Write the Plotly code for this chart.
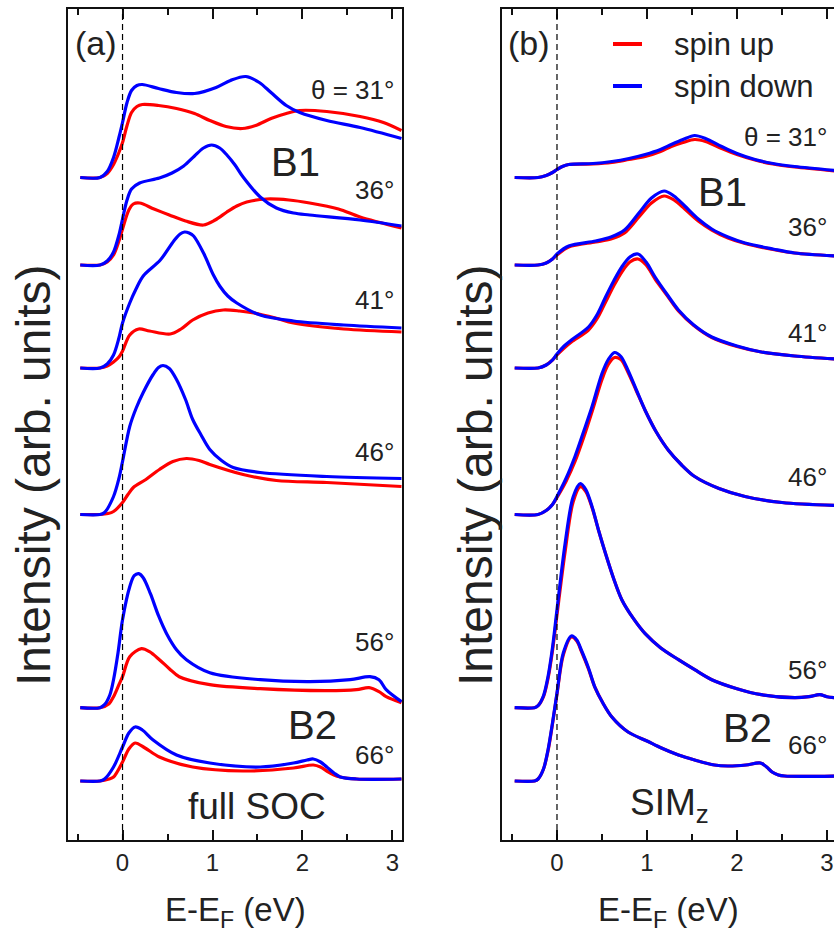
import plotly.graph_objects as go

# ---------------- figure geometry (pixels) ----------------
W, H = 834, 936
PLOT_TOP, PLOT_BOT = 9, 840
A_LEFT, A_RIGHT = 68, 402
B_LEFT, B_RIGHT = 502, 834
XRANGE_A = [-0.606, 3.106]
XRANGE_B = [-0.611, 3.078]
YRANGE = [0, 83.1]

RED = "#ff0000"
BLUE = "#0000ff"
TXT = "#222222"
FONT = "Liberation Sans, Arial, sans-serif"

# ---------------- vertical offsets of the spectra ----------------
angles = ["31", "36", "41", "46", "56", "66"]
offsets = [66.25, 57.5, 47.2, 32.55, 13.23, 5.9]

# ---------------- panel (a): full SOC ----------------
a31_up_E = [-0.47, -0.25, -0.17, -0.10, -0.04, 0.0, 0.05, 0.10, 0.16, 0.22, 0.40, 0.60, 0.80, 0.97, 1.15, 1.33, 1.48, 1.65, 1.82, 1.97, 2.27, 2.64, 2.90, 3.10]
a31_up_I = [0, 0, 0.4, 1.3, 2.5, 3.5, 5.2, 6.5, 7.1, 7.3, 7.2, 6.9, 6.4, 5.7, 5.1, 4.9, 5.2, 5.9, 6.4, 6.7, 6.6, 6.1, 5.5, 4.7]
a31_dn_E = [-0.47, -0.25, -0.17, -0.10, -0.04, 0.0, 0.05, 0.10, 0.16, 0.22, 0.40, 0.60, 0.80, 1.04, 1.20, 1.37, 1.52, 1.65, 1.82, 1.97, 2.27, 2.64, 3.10]
a31_dn_I = [0, 0, 0.6, 2.0, 4.0, 5.5, 7.5, 8.7, 9.2, 9.3, 8.9, 8.5, 8.4, 9.0, 9.7, 10.1, 9.5, 8.5, 7.2, 6.5, 5.7, 5.0, 3.9]

a36_up_E = [-0.47, -0.25, -0.17, -0.10, -0.04, 0.0, 0.07, 0.12, 0.19, 0.35, 0.52, 0.70, 0.90, 1.03, 1.16, 1.27, 1.38, 1.60, 1.85, 2.08, 2.40, 2.64, 3.10]
a36_up_I = [0, 0, 0.3, 1.0, 2.4, 3.6, 5.5, 6.1, 6.2, 5.6, 5.0, 4.4, 4.0, 4.5, 5.3, 5.9, 6.3, 6.6, 6.5, 6.2, 5.6, 4.8, 3.7]
a36_dn_E = [-0.47, -0.25, -0.17, -0.10, -0.04, 0.0, 0.05, 0.10, 0.19, 0.41, 0.55, 0.68, 0.80, 0.90, 0.99, 1.08, 1.16, 1.25, 1.34, 1.53, 1.71, 1.90, 2.08, 2.64, 3.10]
a36_dn_I = [0, 0, 0.4, 1.3, 3.0, 4.6, 6.5, 7.6, 8.2, 8.7, 9.2, 9.9, 10.9, 11.7, 12.0, 11.7, 11.0, 10.0, 8.8, 6.8, 5.7, 5.2, 5.0, 4.5, 3.9]

a41_up_E = [-0.47, -0.25, -0.17, -0.10, -0.04, 0.0, 0.08, 0.18, 0.30, 0.53, 0.65, 0.78, 0.95, 1.12, 1.30, 1.46, 1.70, 1.90, 2.46, 3.10]
a41_up_I = [0, 0, 0.2, 0.6, 1.1, 1.7, 3.3, 3.9, 3.7, 3.4, 3.9, 4.8, 5.5, 5.8, 5.7, 5.5, 5.0, 4.5, 3.9, 3.6]
a41_dn_E = [-0.47, -0.25, -0.17, -0.10, -0.04, 0.0, 0.08, 0.15, 0.23, 0.42, 0.57, 0.64, 0.69, 0.74, 0.79, 0.90, 1.01, 1.08, 1.17, 1.27, 1.53, 1.90, 2.46, 3.10]
a41_dn_I = [0, 0, 0.4, 1.3, 3.0, 4.5, 6.5, 7.9, 9.2, 10.8, 12.7, 13.4, 13.6, 13.5, 13.2, 11.5, 9.3, 8.2, 7.2, 6.5, 5.3, 4.7, 4.3, 4.0]

a46_up_E = [-0.47, -0.25, -0.16, -0.10, 0.0, 0.06, 0.12, 0.26, 0.41, 0.56, 0.71, 0.85, 0.97, 1.34, 1.71, 2.27, 3.10]
a46_up_I = [0, 0, 0.1, 0.3, 1.2, 2.0, 2.7, 3.5, 4.5, 5.3, 5.6, 5.4, 5.0, 4.0, 3.4, 3.2, 2.8]
a46_dn_E = [-0.47, -0.25, -0.20, -0.10, -0.04, 0.0, 0.08, 0.15, 0.23, 0.34, 0.40, 0.45, 0.52, 0.60, 0.70, 0.78, 0.87, 0.97, 1.10, 1.23, 1.53, 2.27, 3.10]
a46_dn_I = [0, 0, 0.2, 1.8, 3.6, 5.3, 8.8, 10.6, 12.2, 14.0, 14.7, 14.9, 14.6, 13.5, 11.5, 9.5, 8.0, 6.5, 5.4, 4.7, 4.2, 3.8, 3.6]

a56_up_E = [-0.47, -0.25, -0.15, -0.10, -0.04, 0.0, 0.08, 0.21, 0.30, 0.41, 0.52, 0.63, 0.97, 1.53, 2.27, 2.60, 2.74, 2.85, 2.93, 3.10]
a56_up_I = [0, 0, 0.4, 1.1, 2.3, 3.1, 5.1, 5.9, 5.6, 4.8, 3.9, 3.1, 2.3, 1.9, 1.7, 1.8, 2.0, 1.6, 1.1, 0.5]
a56_dn_E = [-0.47, -0.25, -0.20, -0.14, -0.10, -0.05, 0.0, 0.08, 0.13, 0.18, 0.23, 0.31, 0.40, 0.49, 0.60, 0.71, 0.97, 1.53, 2.08, 2.53, 2.75, 2.85, 2.93, 3.10]
a56_dn_I = [0, 0, 0.3, 1.3, 2.8, 5.5, 8.8, 12.1, 13.2, 13.4, 13.0, 11.4, 9.2, 7.4, 5.8, 4.8, 3.5, 2.8, 2.6, 2.8, 3.1, 2.8, 1.8, 0.6]

a66_up_E = [-0.47, -0.25, -0.15, -0.10, 0.0, 0.07, 0.14, 0.25, 0.41, 0.78, 1.34, 1.90, 2.12, 2.20, 2.27, 2.35, 2.42, 2.60, 3.10]
a66_up_I = [0, 0, 0.2, 0.4, 1.9, 3.2, 3.8, 3.3, 2.4, 1.4, 1.0, 1.3, 1.6, 1.4, 1.0, 0.6, 0.4, 0.2, 0.2]
a66_dn_E = [-0.47, -0.25, -0.20, -0.10, 0.0, 0.07, 0.14, 0.22, 0.34, 0.60, 0.97, 1.53, 1.90, 2.05, 2.12, 2.20, 2.27, 2.35, 2.42, 2.60, 3.10]
a66_dn_I = [0, 0, 0.2, 1.4, 3.4, 4.8, 5.4, 5.1, 4.1, 2.6, 1.8, 1.4, 1.8, 2.1, 2.2, 1.9, 1.4, 0.8, 0.4, 0.2, 0.2]

# ---------------- panel (b): SIM_z ----------------
b31_up_E = [-0.47, -0.21, -0.12, -0.05, 0.0, 0.06, 0.13, 0.40, 0.61, 0.80, 0.98, 1.15, 1.27, 1.40, 1.53, 1.65, 1.83, 2.00, 2.20, 2.40, 2.64, 3.10]
b31_up_I = [0, 0, 0.2, 0.5, 0.8, 1.1, 1.3, 1.35, 1.5, 1.8, 2.1, 2.6, 3.1, 3.5, 3.8, 3.6, 2.9, 2.3, 1.75, 1.35, 1.05, 0.65]
b31_dn_E = [-0.47, -0.21, -0.12, -0.05, 0.0, 0.06, 0.13, 0.40, 0.61, 0.80, 0.98, 1.15, 1.27, 1.40, 1.53, 1.65, 1.83, 2.00, 2.20, 2.40, 2.64, 3.10]
b31_dn_I = [0, 0, 0.2, 0.5, 0.8, 1.1, 1.3, 1.4, 1.6, 1.9, 2.3, 2.8, 3.3, 3.8, 4.2, 3.9, 3.1, 2.4, 1.8, 1.4, 1.1, 0.7]

b36_up_E = [-0.47, -0.21, -0.12, -0.05, 0.0, 0.13, 0.43, 0.60, 0.75, 0.91, 1.05, 1.19, 1.30, 1.42, 1.57, 1.72, 1.90, 2.09, 2.40, 2.64, 3.10]
b36_up_I = [0, 0, 0.2, 0.6, 1.0, 1.8, 2.3, 2.6, 3.2, 4.8, 6.2, 6.9, 6.5, 5.6, 4.4, 3.5, 2.7, 2.15, 1.55, 1.2, 0.9]
b36_dn_E = [-0.47, -0.21, -0.12, -0.05, 0.0, 0.13, 0.43, 0.60, 0.75, 0.91, 1.05, 1.19, 1.30, 1.42, 1.57, 1.72, 1.90, 2.09, 2.40, 2.64, 3.10]
b36_dn_I = [0, 0, 0.2, 0.6, 1.1, 1.9, 2.4, 2.8, 3.5, 5.2, 6.7, 7.4, 6.9, 5.9, 4.6, 3.6, 2.8, 2.2, 1.6, 1.2, 0.9]

b41_up_E = [-0.47, -0.21, -0.12, -0.05, 0.0, 0.08, 0.16, 0.35, 0.45, 0.54, 0.63, 0.72, 0.81, 0.90, 0.99, 1.09, 1.22, 1.35, 1.52, 1.72, 2.00, 2.27, 2.64, 3.10]
b41_up_I = [0, 0, 0.3, 0.8, 1.3, 2.0, 2.6, 3.8, 5.0, 6.6, 8.2, 9.6, 10.6, 10.9, 10.3, 8.9, 7.3, 5.7, 4.25, 3.05, 2.15, 1.6, 1.2, 0.9]
b41_dn_E = [-0.47, -0.21, -0.12, -0.05, 0.0, 0.08, 0.16, 0.35, 0.45, 0.54, 0.63, 0.72, 0.81, 0.90, 0.99, 1.09, 1.22, 1.35, 1.52, 1.72, 2.00, 2.27, 2.64, 3.10]
b41_dn_I = [0, 0, 0.3, 0.8, 1.4, 2.2, 2.8, 4.1, 5.4, 7.1, 8.7, 10.1, 11.1, 11.4, 10.6, 9.1, 7.4, 5.8, 4.3, 3.1, 2.2, 1.6, 1.2, 0.9]

b46_up_E = [-0.47, -0.21, -0.12, -0.05, 0.0, 0.10, 0.20, 0.30, 0.39, 0.50, 0.57, 0.64, 0.71, 0.79, 0.88, 0.98, 1.10, 1.24, 1.38, 1.53, 1.80, 2.09, 2.50, 3.10]
b46_up_I = [0, 0, 0.4, 1.0, 1.7, 3.3, 5.3, 7.8, 10.3, 13.5, 15.0, 15.7, 15.5, 14.2, 12.4, 10.4, 8.3, 6.4, 5.0, 3.8, 2.6, 1.8, 1.2, 0.9]
b46_dn_E = [-0.47, -0.21, -0.12, -0.05, 0.0, 0.10, 0.20, 0.30, 0.39, 0.50, 0.57, 0.64, 0.71, 0.79, 0.88, 0.98, 1.10, 1.24, 1.38, 1.53, 1.80, 2.09, 2.50, 3.10]
b46_dn_I = [0, 0, 0.4, 1.0, 1.8, 3.6, 5.8, 8.4, 10.8, 14.1, 15.5, 16.2, 15.8, 14.4, 12.5, 10.4, 8.3, 6.4, 5.0, 3.8, 2.6, 1.8, 1.2, 0.9]

b56_up_E = [-0.47, -0.25, -0.21, -0.15, -0.10, -0.05, 0.0, 0.09, 0.18, 0.26, 0.32, 0.39, 0.46, 0.54, 0.63, 0.72, 0.85, 0.98, 1.15, 1.35, 1.53, 1.72, 2.00, 2.27, 2.64, 2.80, 2.92, 3.00, 3.10]
b56_up_I = [0, 0, 0.2, 1.1, 2.9, 5.7, 9.3, 15.6, 20.6, 22.1, 21.6, 20.0, 17.8, 15.4, 12.9, 10.8, 8.9, 7.4, 6.0, 4.8, 3.8, 2.8, 1.9, 1.3, 1.0, 1.1, 1.3, 1.1, 1.0]
b56_dn_E = [-0.47, -0.25, -0.21, -0.15, -0.10, -0.05, 0.0, 0.09, 0.18, 0.26, 0.32, 0.39, 0.46, 0.54, 0.63, 0.72, 0.85, 0.98, 1.15, 1.35, 1.53, 1.72, 2.00, 2.27, 2.64, 2.80, 2.92, 3.00, 3.10]
b56_dn_I = [0, 0, 0.2, 1.2, 3.1, 6.0, 9.8, 16.4, 21.1, 22.4, 21.8, 20.1, 17.8, 15.4, 12.9, 10.8, 8.9, 7.4, 6.0, 4.8, 3.8, 2.8, 1.9, 1.3, 1.0, 1.1, 1.3, 1.1, 1.0]

b66_up_E = [-0.47, -0.25, -0.21, -0.15, -0.10, -0.05, 0.0, 0.07, 0.16, 0.22, 0.27, 0.35, 0.42, 0.51, 0.61, 0.79, 1.00, 1.16, 1.35, 1.53, 1.75, 1.90, 2.10, 2.26, 2.33, 2.39, 2.46, 2.53, 3.10]
b66_up_I = [0, 0, 0.2, 1.2, 3.0, 5.7, 8.7, 12.6, 14.4, 14.0, 13.0, 11.2, 9.4, 7.8, 6.4, 4.9, 4.0, 3.3, 2.6, 2.1, 1.6, 1.5, 1.6, 1.8, 1.4, 0.9, 0.6, 0.5, 0.5]
b66_dn_E = [-0.47, -0.25, -0.21, -0.15, -0.10, -0.05, 0.0, 0.07, 0.16, 0.22, 0.27, 0.35, 0.42, 0.51, 0.61, 0.79, 1.00, 1.16, 1.35, 1.53, 1.75, 1.90, 2.10, 2.26, 2.33, 2.39, 2.46, 2.53, 3.10]
b66_dn_I = [0, 0, 0.2, 1.2, 3.1, 5.8, 8.8, 12.8, 14.5, 14.1, 13.1, 11.3, 9.4, 7.8, 6.4, 4.9, 4.0, 3.3, 2.6, 2.1, 1.6, 1.5, 1.6, 1.8, 1.4, 0.9, 0.6, 0.5, 0.5]

panel_a = [
    (a31_up_E, a31_up_I, a31_dn_E, a31_dn_I),
    (a36_up_E, a36_up_I, a36_dn_E, a36_dn_I),
    (a41_up_E, a41_up_I, a41_dn_E, a41_dn_I),
    (a46_up_E, a46_up_I, a46_dn_E, a46_dn_I),
    (a56_up_E, a56_up_I, a56_dn_E, a56_dn_I),
    (a66_up_E, a66_up_I, a66_dn_E, a66_dn_I),
]
panel_b = [
    (b31_up_E, b31_up_I, b31_dn_E, b31_dn_I),
    (b36_up_E, b36_up_I, b36_dn_E, b36_dn_I),
    (b41_up_E, b41_up_I, b41_dn_E, b41_dn_I),
    (b46_up_E, b46_up_I, b46_dn_E, b46_dn_I),
    (b56_up_E, b56_up_I, b56_dn_E, b56_dn_I),
    (b66_up_E, b66_up_I, b66_dn_E, b66_dn_I),
]


def px(x):
    return x / W


def py(y):
    return 1 - y / H


fig = go.Figure()

for axes, curves in (("a", panel_a), ("b", panel_b)):
    xa, ya = ("x", "y") if axes == "a" else ("x2", "y2")
    for ang, off, (eu, iu, ed, idn) in zip(angles, offsets, curves):
        fig.add_trace(go.Scatter(
            x=eu, y=[off + v for v in iu], xaxis=xa, yaxis=ya,
            mode="lines", line=dict(color=RED, width=3.2, shape="spline", smoothing=0.9),
            name="spin up", showlegend=False, hoverinfo="skip"))
        fig.add_trace(go.Scatter(
            x=ed, y=[off + v for v in idn], xaxis=xa, yaxis=ya,
            mode="lines", line=dict(color=BLUE, width=3.2, shape="spline", smoothing=0.9),
            name="spin down", showlegend=False, hoverinfo="skip"))

xcommon = dict(
    showgrid=False, zeroline=False, showline=True, linecolor="#111111", linewidth=1.5,
    mirror="ticks", ticks="inside", ticklen=10, tickwidth=1.5, tickcolor="#111111",
    dtick=1, tick0=0, tickfont=dict(family=FONT, size=24, color=TXT),
    minor=dict(ticks="inside", ticklen=6, tickwidth=1.5, tickcolor="#111111", dtick=0.5, tick0=0),
)
ycommon = dict(
    showgrid=False, zeroline=False, showline=True, linecolor="#111111", linewidth=1.5,
    ticks="", showticklabels=False, range=YRANGE, domain=[py(PLOT_BOT), py(PLOT_TOP)],
)

fig.update_layout(
    width=W, height=H, margin=dict(l=0, r=0, t=0, b=0),
    paper_bgcolor="white", plot_bgcolor="white", showlegend=False,
    xaxis=dict(xcommon, domain=[px(A_LEFT), px(A_RIGHT)], range=XRANGE_A, anchor="y"),
    yaxis=dict(ycommon, mirror=True, anchor="x"),
    xaxis2=dict(xcommon, domain=[px(B_LEFT), 1.0], range=XRANGE_B, anchor="y2"),
    yaxis2=dict(ycommon, mirror=False, anchor="x2"),
)

shapes = []
# dashed Fermi-level markers
for xr in ("x", "x2"):
    shapes.append(dict(type="line", xref=xr, yref="paper", x0=0, x1=0,
                       y0=py(PLOT_BOT), y1=py(PLOT_TOP),
                       line=dict(color="#000000", width=1.2, dash="6px,4px")))
# legend keys
shapes.append(dict(type="line", xref="paper", yref="paper", x0=px(613), x1=px(642),
                   y0=py(44), y1=py(44), line=dict(color=RED, width=4)))
shapes.append(dict(type="line", xref="paper", yref="paper", x0=px(613), x1=px(642),
                   y0=py(86), y1=py(86), line=dict(color=BLUE, width=4)))
fig.update_layout(shapes=shapes)

ann = []


def label(text, x, y, size, xanchor="center", angle=0):
    ann.append(dict(text=text, x=px(x), y=py(y), xref="paper", yref="paper",
                    xanchor=xanchor, yanchor="middle", showarrow=False, textangle=angle,
                    font=dict(family=FONT, size=size, color=TXT)))


# panel letters
label("(a)", 96, 43, 34)
label("(b)", 529, 43, 34)
# angle labels
a_y = [90, 190, 300, 452, 642, 755]
b_y = [137, 227, 333, 477, 670, 745]
for i, ang in enumerate(angles):
    t = "θ = %s°" % ang if i == 0 else "%s°" % ang
    label(t, 396, a_y[i], 26, xanchor="right")
    label(t, 829, b_y[i], 26, xanchor="right")
# band labels
label("B1", 295, 162, 40)
label("B2", 312, 725, 40)
label("B1", 722, 192, 40)
label("B2", 747, 728, 40)
label("full SOC", 257, 806, 37)
label("SIM<sub>z</sub>", 669, 805, 37)
# legend text
label("spin up", 672, 44, 31, xanchor="left")
label("spin down", 672, 86, 31, xanchor="left")
# axis titles
label("E-E<sub>F</sub> (eV)", 235, 912, 33)
label("E-E<sub>F</sub> (eV)", 668, 912, 33)
label("Intensity (arb. units)", 33, 475, 48, angle=-90)
label("Intensity (arb. units)", 475, 475, 48, angle=-90)

fig.update_layout(annotations=ann)

fig.write_html("out.html")
